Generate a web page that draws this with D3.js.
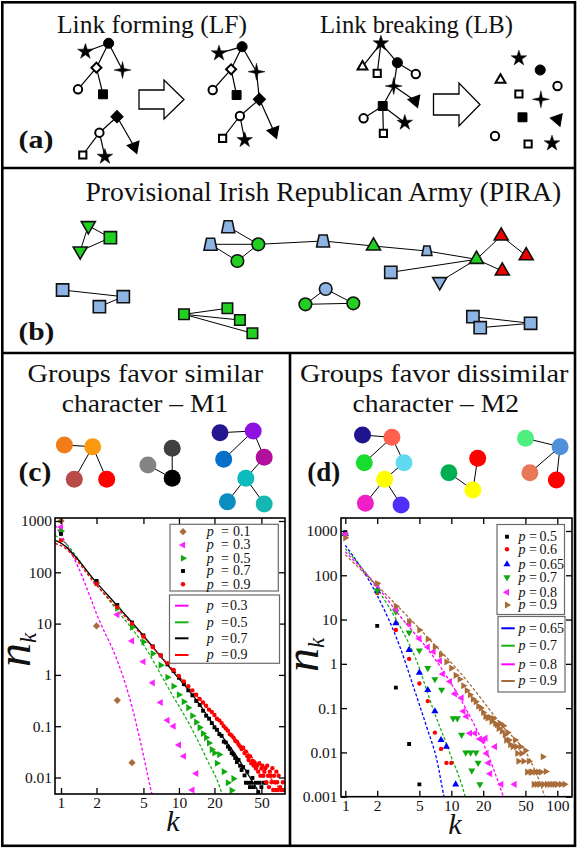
<!DOCTYPE html>
<html><head><meta charset="utf-8">
<script src="https://cdn.jsdelivr.net/npm/d3@7"></script>
<style>body{margin:0;background:#fff}svg{display:block}</style>
</head><body>
<script>
// ================= DATA =================
// Panel (c) – M1 simulation points (k, n_k)
const c_p01_k=[1,2,3,4];
const c_p01_n=[1000,9,0.32,0.0195];
const c_p03_k=[1,2,3,4,5,6,7,8,9,10,11,13,14];
const c_p03_n=[760,62,15,4.6,1.8,0.7,0.29,0.13,0.10,0.043,0.026,0.0057,0.012];
const c_p05_k=[1,2,3,4,5,6,7,8,9,10,11,12,13,14,15,16,17,18,19,20,21,22,24,26,28,29];
const c_p05_n=[640,62,20,8.5,4.4,2.6,1.55,0.9,0.6,0.41,0.3,0.23,0.16,0.12,0.094,0.072,0.06,0.047,0.035,0.03,0.019,0.028,0.013,0.0079,0.0056,0.0095];
const c_p07_k=[1,2,3,4,5,6,7,8,9,10,11,12,13,14,15,16,17,18,19,20,21,22,23,24,25,26,27,28,29,30,31,32,33,34,35,36,37,38,39,40,41,42,43,45,47,48,50,52,55];
const c_p07_n=[560,68,23,10.5,5.9,3.6,2.4,1.6,1.2,0.88,0.66,0.5,0.4,0.31,0.26,0.2,0.16,0.14,0.115,0.095,0.085,0.07,0.065,0.05,0.048,0.04,0.036,0.03,0.028,0.024,0.02,0.022,0.017,0.014,0.016,0.011,0.0079,0.013,0.0079,0.0065,0.0079,0.0098,0.0065,0.0079,0.0052,0.0079,0.0065,0.0079,0.0079];
const c_p09_k=[1,2,3,4,5,6,7,8,9,10,11,12,13,14,15,16,17,18,19,20,21,22,23,24,25,26,27,28,29,30,31,32,33,34,35,36,37,38,39,40,41,42,43,44,45,46,47,48,49,50,51,52,53,54,55,56,57,58,59,60,61,62,63,64,65,66,67,68,69,70,72,74,76,78];
const c_p09_n=[420,60,21,10,5.6,3.5,2.4,1.7,1.25,0.95,0.75,0.6,0.5,0.41,0.34,0.29,0.25,0.21,0.19,0.165,0.14,0.13,0.115,0.1,0.09,0.082,0.07,0.066,0.06,0.052,0.05,0.044,0.04,0.036,0.038,0.03,0.032,0.026,0.022,0.026,0.019,0.021,0.017,0.019,0.015,0.017,0.013,0.019,0.0108,0.015,0.017,0.0108,0.013,0.0152,0.0081,0.017,0.0108,0.0065,0.013,0.0108,0.0081,0.0152,0.0057,0.0108,0.0081,0.0057,0.013,0.0081,0.0057,0.0108,0.0065,0.0057,0.0081,0.0057];
// Panel (c) – theory curves (read at anchor points)
const c_l03_k=[0.89,1.4,2.14,2.96,4.0,4.68,5.87,6.2];
const c_l03_n=[830,126,10.7,2.07,0.24,0.054,0.005,0.003];
const c_l05_k=[0.89,1,2,3,4.68,8.94,12,17.2,23,24];
const c_l05_n=[525,440,58,18,4.9,0.38,0.12,0.023,0.005,0.0035];
const c_l07_k=[0.89,1,2,5,8.94,14,20,30,40,48,50];
const c_l07_n=[420,371,63,5.8,1.15,0.33,0.1,0.0286,0.01,0.0049,0.004];
const c_l09_k=[0.89,1,2,5,10,20,30,55,76,80];
const c_l09_n=[365,330,56,5.5,0.93,0.16,0.057,0.012,0.0052,0.0045];

// Panel (d) – M2 simulation points
const d_p05_k=[1,2,3,4,5];
const d_p05_n=[935,7.2,0.29,0.0155,0.0019];
const d_p06_k=[1,2,3,4,5,6,7,8,9,10];
const d_p06_n=[880,40,5.8,1.29,0.36,0.144,0.028,0.012,0.0058,0.0058];
const d_p065_k=[1,2,3,4,5,6,7,8,9,11];
const d_p065_n=[860,45,8.3,2.06,0.63,0.256,0.085,0.019,0.0135,0.0019];
const d_p07_k=[1,2,3,4,5,6,7,8.1,10.4,11.4,12.5,13.7,15.2,15.6,17.1,17.9,18.6];
const d_p07_n=[800,45,15,5.1,2.0,0.8,0.45,0.26,0.059,0.059,0.025,0.0099,0.0099,0.0039,0.0099,0.0058,0.0019];
const d_p08_k=[1,2,3,4,5,6,6.8,7.8,8.3,9.7,10.8,12.5,13,13.9,15,16.7,18.6,20,21,21.5,22.4,23.2,25.8,29.6,39.5];
const d_p08_n=[850,60,17,7.9,3.7,2.4,1.87,1.17,0.59,0.40,0.21,0.17,0.085,0.065,0.027,0.027,0.02,0.019,0.021,0.0095,0.0058,0.0033,0.0135,0.0019,0.0019];
const d_p09_k=[1,2,3,4,5,6,7,8,9,10,11,12,13,14,15,16,17,18,19,20,21,22,23,24,25,26,27,28,29,30,31,32,33,34,35,36,38,40,41,42,43,45,46,48,50,52,54,56,58,60,62,64,66,68,70,73,74,78,80,85,90,95,100,108,117];
const d_p09_n=[700,65,20,9,5.8,3.6,2.4,1.6,1.1,0.8,0.55,0.45,0.32,0.25,0.2,0.16,0.14,0.11,0.1,0.08,0.065,0.06,0.062,0.05,0.058,0.045,0.042,0.035,0.045,0.03,0.04,0.025,0.019,0.028,0.019,0.015,0.0135,0.019,0.0135,0.0095,0.0063,0.0135,0.0095,0.0063,0.011,0.0036,0.0063,0.0036,0.0036,0.0019,0.0036,0.0019,0.0036,0.0019,0.0036,0.008,0.0019,0.0037,0.0019,0.0019,0.0019,0.0019,0.0019,0.0019,0.0019];
// Panel (d) – theory curves
const d_l065_k=[1,2,3.28,4.38,5.85,7.3,8.55,9];
const d_l065_n=[475,35,2.4,0.31,0.038,0.0068,0.001,0.0006];
const d_l07_k=[1,2,3.28,4.54,6.78,9.7,13.5,14];
const d_l07_n=[400,50,7,1.45,0.091,0.0096,0.001,0.0007];
const d_l08_k=[1,2,3.28,6.77,13.9,20,31,32];
const d_l08_n=[340,56,12,1.45,0.091,0.016,0.001,0.0008];
const d_l09_k=[1,2,3.28,6.77,13.9,28.7,59.3,76,78];
const d_l09_n=[290,58,17.7,2.9,0.43,0.046,0.0048,0.001,0.0008];

// Tick values and legend labels
const cTicksX=[1,2,5,10,20,50];
const cTicksY=[0.01,0.1,1,10,100,1000];
const dTicksX=[1,2,5,10,20,50,100];
const dTicksY=[0.001,0.01,0.1,1,10,100,1000];
const cPointLabels=["0.1","0.3","0.5","0.7","0.9"];
const cLineLabels=["0.3","0.5","0.7","0.9"];
const dPointLabels=["0.5","0.6","0.65","0.7","0.8","0.9"];
const dLineLabels=["0.65","0.7","0.8","0.9"];

// Titles
const titleLF="Link forming (LF)", titleLB="Link breaking (LB)";
const titlePIRA="Provisional Irish Republican Army (PIRA)";
const titleC=["Groups favor similar","character \u2013 M1"];
const titleD=["Groups favor dissimilar","character \u2013 M2"];

// Network diagrams: nodes [shape, x, y] and edges
const aNodes=[
 ["fc",108.6,43.3],["star",85.4,51.7],["od",96.4,67.7],["s4",122.5,70],["oc",78,89.3],["fs",103,94.3],
 ["fd",117,116.7],["oc",99.4,132.7],["ft",134.3,146.7],["os",82.8,155],["star",104.9,156.7],
 ["fc",242.1,46.7],["star",219,53.3],["od",231.1,69.3],["s4",256.5,71.7],["oc",212.7,90],["fs",236.6,95],["fd",259.4,99.3],["oc",239.9,116],["ft",274.1,131.7],["os",222.6,138.3],["star",244.7,140],
 ["star",380.9,43.3],["ot",362.5,66.7],["os",377.2,73.3],["fc",397.4,62.7],["oc",415.8,74],["s4",393.7,86],["ft",415.1,100.7],["fs",382.7,106],["oc",363.6,118.3],["star",404.8,122.7],["os",383.4,133.3],
 ["star",518.9,58.3],["fc",540.2,70],["ot",500.5,80],["oc",557.5,86],["os",518.9,94],["s4",540.9,99.3],["fs",522.5,117.3],["ft",557.5,119.3],["oc",495,136],["os",528.1,144],["star",552,143.3]
];
const aEdges=[[0,1],[0,2],[0,3],[2,4],[2,5],[6,7],[6,8],[7,9],[7,10],
 [11,12],[11,13],[11,14],[13,15],[13,16],[14,17],[17,18],[17,19],[18,20],[18,21],
 [22,23],[22,24],[22,25],[25,26],[25,27],[27,28],[27,29],[29,30],[29,31],[29,32]];
const bNodes=[
 ["tdown","g",88.3,225.7],["sq","g",110.4,237.7],["tdown","g",80.2,251],
 ["trap","b",228.2,226.7],["trap","b",210.5,244.3],["circ","g",258.3,244.3],["circ","g",237.4,261],
 ["trap","b",323.1,241],["tup","g",373.5,246],["trapS","b",426.9,251],["tup","g",476.5,259.3],
 ["tup","r",501.2,236],["tup","r",526.2,255.7],["tup","r",502.3,271],["sq","b",390.8,272.3],["tdown","b",439.7,281.7],
 ["sq","b",62.6,290],["sq","b",123.3,296.7],["sq","b",99.4,306.7],
 ["circ","b",325.7,289],["circ","g",305.4,304.3],["circ","g",353.3,303.3],
 ["sqS","g",184,314.3],["sqS","g",227.4,308.3],["sqS","g",239.9,320],["sqS","g",252.4,333.3],
 ["sq","b",472.9,316.7],["sq","b",480.2,327.7],["sq","b",530.6,323.3]
];
const bEdges=[[0,1],[0,2],[2,1],[3,5],[4,5],[4,6],[6,5],[5,7],[7,8],[8,9],[9,10],[10,11],[11,12],[10,13],[10,14],[10,15],
 [16,17],[17,18],[19,20],[19,21],[20,21],[22,23],[22,24],[22,25],[26,28],[27,28]];
const cNodes=[[64.4,445,"#f07d1a"],[92.7,446.7,"#f99a10"],[74.3,479.3,"#b84b47"],[106.7,479.3,"#ff0000"],
 [172.2,448.3,"#404040"],[147.9,465,"#848484"],[172.2,478.3,"#000000"],
 [220,432.7,"#23168e"],[253.2,431,"#8e12e0"],[223.7,459.3,"#0870c8"],[264.2,457.3,"#b0109c"],[245.8,478.3,"#0cbcbc"],[227.4,501.7,"#0a8ec0"],[264.2,504,"#14b8b0"]];
const cEdges=[[0,1],[1,2],[1,3],[4,6],[5,6],[7,8],[8,9],[8,10],[10,11],[11,12],[11,13]];
const dNodes=[[362.5,435,"#20148e"],[391.9,437.3,"#ff6050"],[364.3,462.7,"#18dc30"],[404,462.7,"#60d8f0"],[384.6,479.3,"#ffff00"],[365.4,503.3,"#f020c8"],[401.1,505,"#5030f8"],
 [477.7,458.3,"#ff0000"],[448.9,472.7,"#00b050"],[472.9,490,"#ffff00"],
 [525.5,438.3,"#50f080"],[560.1,446.7,"#5090d8"],[529.9,472.7,"#e87858"],[556.4,480,"#ff0000"]];
const dEdges=[[0,1],[1,2],[1,3],[3,4],[4,5],[4,6],[7,9],[8,9],[10,11],[11,12],[11,13]];

// ================= DRAWING =================
const SERIF="Liberation Serif, serif";
const svg=d3.select("body").append("svg").attr("width",577).attr("height",848);
svg.append("rect").attr("width",577).attr("height",848).attr("fill","#fff");

function txt(x,y,s,o={}){
  const t=svg.append("text").attr("x",x).attr("y",y).text(s)
    .attr("font-family",SERIF).attr("font-size",o.size||26).attr("fill","#111");
  if(o.bold)t.attr("font-weight","bold");
  if(o.italic)t.attr("font-style","italic");
  if(o.anchor)t.attr("text-anchor",o.anchor);
  if(o.len)t.attr("textLength",o.len).attr("lengthAdjust","spacingAndGlyphs");
  return t;
}
// Titles
txt(57,33,titleLF,{size:26,len:190});
txt(320,33,titleLB,{size:26,len:193});
txt(18.4,147.7,"(a)",{size:26,bold:true,len:35});
txt(85.4,201,titlePIRA,{size:27,len:475.8});
txt(18.4,340,"(b)",{size:26,bold:true,len:36});
txt(27.6,381.7,titleC[0],{size:25.5,len:235.5});
txt(61.8,411.7,titleC[1],{size:25.5,len:166.4});
txt(299.9,381.7,titleD[0],{size:25.5,len:268.6});
txt(352.5,411.7,titleD[1],{size:25.5,len:166.4});
txt(18.4,481,"(c)",{size:27,bold:true,len:33});
txt(307.3,481,"(d)",{size:27,bold:true,len:33});

// shape helpers
function star4(R,r){let p="";for(let i=0;i<8;i++){const a=i*Math.PI/4-Math.PI/2,rr=i%2?r:R;p+=(i?"L":"M")+(rr*Math.cos(a)).toFixed(2)+","+(rr*Math.sin(a)).toFixed(2);}return p+"Z";}
const sym=(t,s)=>d3.symbol(t,s)();
function aShape(type){
  switch(type){
    case "fc":return {d:sym(d3.symbolCircle,80),fill:"#000",stroke:"#000",sw:1};
    case "oc":return {d:sym(d3.symbolCircle,55),fill:"#fff",stroke:"#000",sw:2};
    case "star":return {d:sym(d3.symbolStar,75),fill:"#000",stroke:"#000",sw:0.5};
    case "s4":return {d:star4(8.5,2.2),fill:"#000",stroke:"#000",sw:0.5};
    case "od":return {d:sym(d3.symbolSquare,50),fill:"#fff",stroke:"#000",sw:2,rot:45};
    case "fd":return {d:sym(d3.symbolSquare,75),fill:"#000",stroke:"#000",sw:1,rot:45};
    case "fs":return {d:sym(d3.symbolSquare,80),fill:"#000",stroke:"#000",sw:1};
    case "os":return {d:sym(d3.symbolSquare,52),fill:"#fff",stroke:"#000",sw:2};
    case "ot":return {d:sym(d3.symbolTriangle,42),fill:"#fff",stroke:"#000",sw:2};
    case "ft":return {d:sym(d3.symbolTriangle,70),fill:"#000",stroke:"#000",sw:1,rot:-80};
  }
}
// Panel (a)
const ga=svg.append("g");
ga.selectAll("line").data(aEdges).join("line")
  .attr("x1",e=>aNodes[e[0]][1]).attr("y1",e=>aNodes[e[0]][2])
  .attr("x2",e=>aNodes[e[1]][1]).attr("y2",e=>aNodes[e[1]][2])
  .attr("stroke","#000").attr("stroke-width",1.2);
ga.selectAll("path.n").data(aNodes).join("path").attr("class","n")
  .each(function(n){const s=aShape(n[0]);d3.select(this).attr("d",s.d).attr("fill",s.fill).attr("stroke",s.stroke).attr("stroke-width",s.sw)
    .attr("transform",`translate(${n[1]},${n[2]})`+(s.rot?` rotate(${s.rot})`:""));});
// arrows
function arrow(x0,x1,x2,yc,hs,hh){
  return `M${x0},${yc-hs}L${x1},${yc-hs}L${x1},${yc-hh}L${x2},${yc}L${x1},${yc+hh}L${x1},${yc+hs}L${x0},${yc+hs}Z`;
}
ga.append("path").attr("d",arrow(139,164,184,99.5,9.5,19.5)).attr("fill","#fff").attr("stroke","#000").attr("stroke-width",1.3);
ga.append("path").attr("d",arrow(433.5,459,480,104.5,10.5,21.5)).attr("fill","#fff").attr("stroke","#000").attr("stroke-width",1.3);

// Panel (b)
const colB={g:"#22d022",b:"#8db4e2",r:"#f00000"};
function bShape(t){
  switch(t){
    case "sq":return {d:sym(d3.symbolSquare,150)};
    case "sqS":return {d:sym(d3.symbolSquare,110)};
    case "circ":return {d:sym(d3.symbolCircle,125)};
    case "tup":return {d:sym(d3.symbolTriangle,85)};
    case "tdown":return {d:sym(d3.symbolTriangle,85),rot:180};
    case "trap":return {d:"M-4,-6L4,-6L6.5,6L-6.5,6Z"};
    case "trapS":return {d:"M-3,-5L3,-5L5,4.5L-5,4.5Z"};
  }
}
const gb=svg.append("g");
gb.selectAll("line").data(bEdges).join("line")
  .attr("x1",e=>bNodes[e[0]][2]).attr("y1",e=>bNodes[e[0]][3])
  .attr("x2",e=>bNodes[e[1]][2]).attr("y2",e=>bNodes[e[1]][3])
  .attr("stroke","#000").attr("stroke-width",1);
gb.selectAll("path").data(bNodes).join("path")
  .each(function(n){const s=bShape(n[0]);d3.select(this).attr("d",s.d).attr("fill",colB[n[1]]).attr("stroke","#111").attr("stroke-width",1.6)
    .attr("transform",`translate(${n[2]},${n[3]})`+(s.rot?` rotate(${s.rot})`:""));});

// Panels (c),(d) colored groups
function colorGraph(nodes,edges){
  const g=svg.append("g");
  g.selectAll("line").data(edges).join("line")
    .attr("x1",e=>nodes[e[0]][0]).attr("y1",e=>nodes[e[0]][1])
    .attr("x2",e=>nodes[e[1]][0]).attr("y2",e=>nodes[e[1]][1])
    .attr("stroke","#000").attr("stroke-width",1);
  g.selectAll("circle").data(nodes).join("circle")
    .attr("cx",n=>n[0]).attr("cy",n=>n[1]).attr("r",8.5).attr("fill",n=>n[2]);
}
colorGraph(cNodes,cEdges);
colorGraph(dNodes,dEdges);

// ---------- log-log plots ----------
const symTri=d3.symbol(d3.symbolTriangle,22)();
const symSq=d3.symbol(d3.symbolSquare,15)();
const symCirc=d3.symbol(d3.symbolCircle,15)();
const symDia=d3.symbol(d3.symbolSquare,26)();
function drawPlot(cfg){
  const x=d3.scaleLog().domain(cfg.xd).range([cfg.l,cfg.r]);
  const y=d3.scaleLog().domain(cfg.yd).range([cfg.b,cfg.t]);
  const g=svg.append("g");
  g.append("clipPath").attr("id",cfg.id).append("rect")
    .attr("x",cfg.l).attr("y",cfg.t).attr("width",cfg.r-cfg.l).attr("height",cfg.b-cfg.t);
  const p=g.append("g").attr("clip-path",`url(#${cfg.id})`);
  const line=d3.line().x(d=>x(d[0])).y(d=>y(d[1])).curve(d3.curveMonotoneX);
  cfg.lines.forEach(L=>{
    p.append("path").datum(L.k.map((k,i)=>[k,L.n[i]])).attr("d",line)
      .attr("fill","none").attr("stroke",L.color).attr("stroke-width",1.3).attr("stroke-dasharray",L.dash);
  });
  cfg.series.forEach(S=>{
    p.append("g").selectAll("path").data(S.k.map((k,i)=>[k,S.n[i]])).join("path")
      .attr("d",S.sym).attr("fill",S.color)
      .attr("transform",d=>`translate(${x(d[0])},${y(d[1])})`+(S.rot?` rotate(${S.rot})`:""));
  });
  const fmt=d=>String(d);
  const ax=[
    g.append("g").attr("transform",`translate(0,${cfg.b})`).call(d3.axisBottom(x).tickValues(cfg.tx).tickFormat(fmt).tickSize(-6).tickPadding(3)),
    g.append("g").attr("transform",`translate(0,${cfg.t})`).call(d3.axisTop(x).tickValues(cfg.tx).tickFormat("").tickSize(-6)),
    g.append("g").attr("transform",`translate(${cfg.l},0)`).call(d3.axisLeft(y).tickValues(cfg.ty).tickFormat(fmt).tickSize(-6).tickPadding(cfg.lpad)),
    g.append("g").attr("transform",`translate(${cfg.r},0)`).call(d3.axisRight(y).tickValues(cfg.ty).tickFormat("").tickSize(-6))
  ];
  ax.forEach(a=>{a.select(".domain").remove();a.selectAll("line").attr("stroke","#000").attr("stroke-width",1.3);
    a.selectAll("text").attr("font-family",SERIF).attr("font-size",15.5).attr("fill","#111");});
  g.append("rect").attr("x",cfg.l).attr("y",cfg.t).attr("width",cfg.r-cfg.l).attr("height",cfg.b-cfg.t)
    .attr("fill","none").attr("stroke","#000").attr("stroke-width",1.6);
  // axis labels
  const yl=g.append("text").attr("transform",`translate(${cfg.ylx},${cfg.yly}) rotate(-90)`).attr("text-anchor","middle")
    .attr("font-family",SERIF).attr("font-style","italic").attr("fill","#111");
  yl.append("tspan").attr("font-size",48).text("n");
  yl.append("tspan").attr("font-size",23).attr("dy",6).text("k");
  g.append("text").attr("x",cfg.xlx).attr("y",cfg.xly).attr("text-anchor","middle").attr("font-family",SERIF)
    .attr("font-style","italic").attr("font-size",30).attr("fill","#111").text("k");
  // legends
  cfg.legends.forEach(Lg=>{
    g.append("rect").attr("x",Lg.x0).attr("y",Lg.y0).attr("width",Lg.x1-Lg.x0).attr("height",Lg.y1-Lg.y0)
      .attr("fill","#fff").attr("stroke","#6a6a6a").attr("stroke-width",1.2);
    Lg.items.forEach((it,i)=>{
      const yy=Lg.rows[i];
      if(it.sym){g.append("path").attr("d",it.sym).attr("fill",it.color)
        .attr("transform",`translate(${Lg.mx},${yy})`+(it.rot?` rotate(${it.rot})`:""));}
      else{g.append("line").attr("x1",Lg.lx0).attr("x2",Lg.lx1).attr("y1",yy).attr("y2",yy).attr("stroke",it.color).attr("stroke-width",2);}
      const t=g.append("text").attr("y",yy+4.3).attr("font-family",SERIF).attr("font-size",14).attr("fill","#111");
      t.append("tspan").attr("x",Lg.px).attr("font-style","italic").text("p");
      t.append("tspan").attr("x",Lg.ex).text("=");
      t.append("tspan").attr("x",Lg.vx).text(it.label);
    });
  });
}
const brown="#a86c38", mag="#ff22ff", grn="#10aa10", grnL="#18b018";
drawPlot({id:"clipC",l:55,r:285,t:518,b:794,xd:[0.8895,79.3],yd:[0.00477,1144],tx:cTicksX,ty:cTicksY,lpad:3,
  ylx:30,yly:650,xlx:173,xly:831,
  lines:[
    {k:c_l03_k,n:c_l03_n,color:"#ff00ff",dash:"3,2"},
    {k:c_l05_k,n:c_l05_n,color:grnL,dash:"3,2"},
    {k:c_l07_k,n:c_l07_n,color:"#000",dash:null},
    {k:c_l09_k,n:c_l09_n,color:"#ff0000",dash:"3,2"}],
  series:[
    {k:c_p01_k,n:c_p01_n,sym:symDia,color:brown,rot:45},
    {k:c_p03_k,n:c_p03_n,sym:symTri,color:mag,rot:-90},
    {k:c_p05_k,n:c_p05_n,sym:symTri,color:grn,rot:90},
    {k:c_p07_k,n:c_p07_n,sym:symSq,color:"#000"},
    {k:c_p09_k,n:c_p09_n,sym:symCirc,color:"#ff0000"}],
  legends:[
    {x0:170,y0:524.3,x1:278.3,y1:591,mx:183,px:206.7,ex:221,vx:233,rows:[531.7,545,558.3,571,584.3],
     items:[{sym:symDia,color:brown,rot:45,label:cPointLabels[0]},{sym:symTri,color:mag,rot:-90,label:cPointLabels[1]},
      {sym:symTri,color:grn,rot:90,label:cPointLabels[2]},{sym:symSq,color:"#000",label:cPointLabels[3]},{sym:symCirc,color:"#ff0000",label:cPointLabels[4]}]},
    {x0:169.5,y0:595,x1:279.5,y1:663.3,lx0:175,lx1:188.5,px:206.7,ex:221,vx:230,rows:[605.7,622.3,638.3,655],
     items:[{color:"#ff00ff",label:cLineLabels[0]},{color:grnL,label:cLineLabels[1]},{color:"#000",label:cLineLabels[2]},{color:"#ff0000",label:cLineLabels[3]}]}
  ]});
drawPlot({id:"clipD",l:341,r:572,t:518,b:796.7,xd:[0.911,137.6],yd:[0.001,1963],tx:dTicksX,ty:dTicksY,lpad:3.5,
  ylx:318,yly:655,xlx:455,xly:834,
  lines:[
    {k:d_l065_k,n:d_l065_n,color:"#0000ff",dash:"3,2"},
    {k:d_l07_k,n:d_l07_n,color:grnL,dash:"3,2"},
    {k:d_l08_k,n:d_l08_n,color:"#ff00ff",dash:"3,2"},
    {k:d_l09_k,n:d_l09_n,color:brown,dash:"3,2"}],
  series:[
    {k:d_p05_k,n:d_p05_n,sym:symSq,color:"#000"},
    {k:d_p06_k,n:d_p06_n,sym:symCirc,color:"#ff0000"},
    {k:d_p065_k,n:d_p065_n,sym:symTri,color:"#0000ff"},
    {k:d_p07_k,n:d_p07_n,sym:symTri,color:grn,rot:180},
    {k:d_p08_k,n:d_p08_n,sym:symTri,color:mag,rot:-90},
    {k:d_p09_k,n:d_p09_n,sym:symTri,color:brown,rot:90}],
  legends:[
    {x0:497,y0:524.5,x1:564.5,y1:614.5,mx:507,px:518.5,ex:529,vx:539.5,rows:[536.7,549.3,564.3,577.3,592.3,605],
     items:[{sym:symSq,color:"#000",label:dPointLabels[0]},{sym:symCirc,color:"#ff0000",label:dPointLabels[1]},
      {sym:symTri,color:"#0000ff",label:dPointLabels[2]},{sym:symTri,color:grn,rot:180,label:dPointLabels[3]},
      {sym:symTri,color:mag,rot:-90,label:dPointLabels[4]},{sym:symTri,color:brown,rot:90,label:dPointLabels[5]}]},
    {x0:498,y0:616.5,x1:565,y1:692,lx0:501.3,lx1:514.7,px:518.5,ex:529,vx:539.5,rows:[628.3,645.7,664.3,681],
     items:[{color:"#0000ff",label:dLineLabels[0]},{color:grnL,label:dLineLabels[1]},{color:"#ff00ff",label:dLineLabels[2]},{color:brown,label:dLineLabels[3]}]}
  ]});

// Panel frames
const fr=svg.append("g").attr("fill","none").attr("stroke","#000").attr("stroke-width",2.6);
fr.append("rect").attr("x",2.3).attr("y",2.3).attr("width",572.7).attr("height",843.5);
fr.append("line").attr("x1",2).attr("x2",575).attr("y1",168).attr("y2",168);
fr.append("line").attr("x1",2).attr("x2",575).attr("y1",353).attr("y2",353);
fr.append("line").attr("x1",290).attr("x2",290).attr("y1",353).attr("y2",846);
</script>
</body></html>
